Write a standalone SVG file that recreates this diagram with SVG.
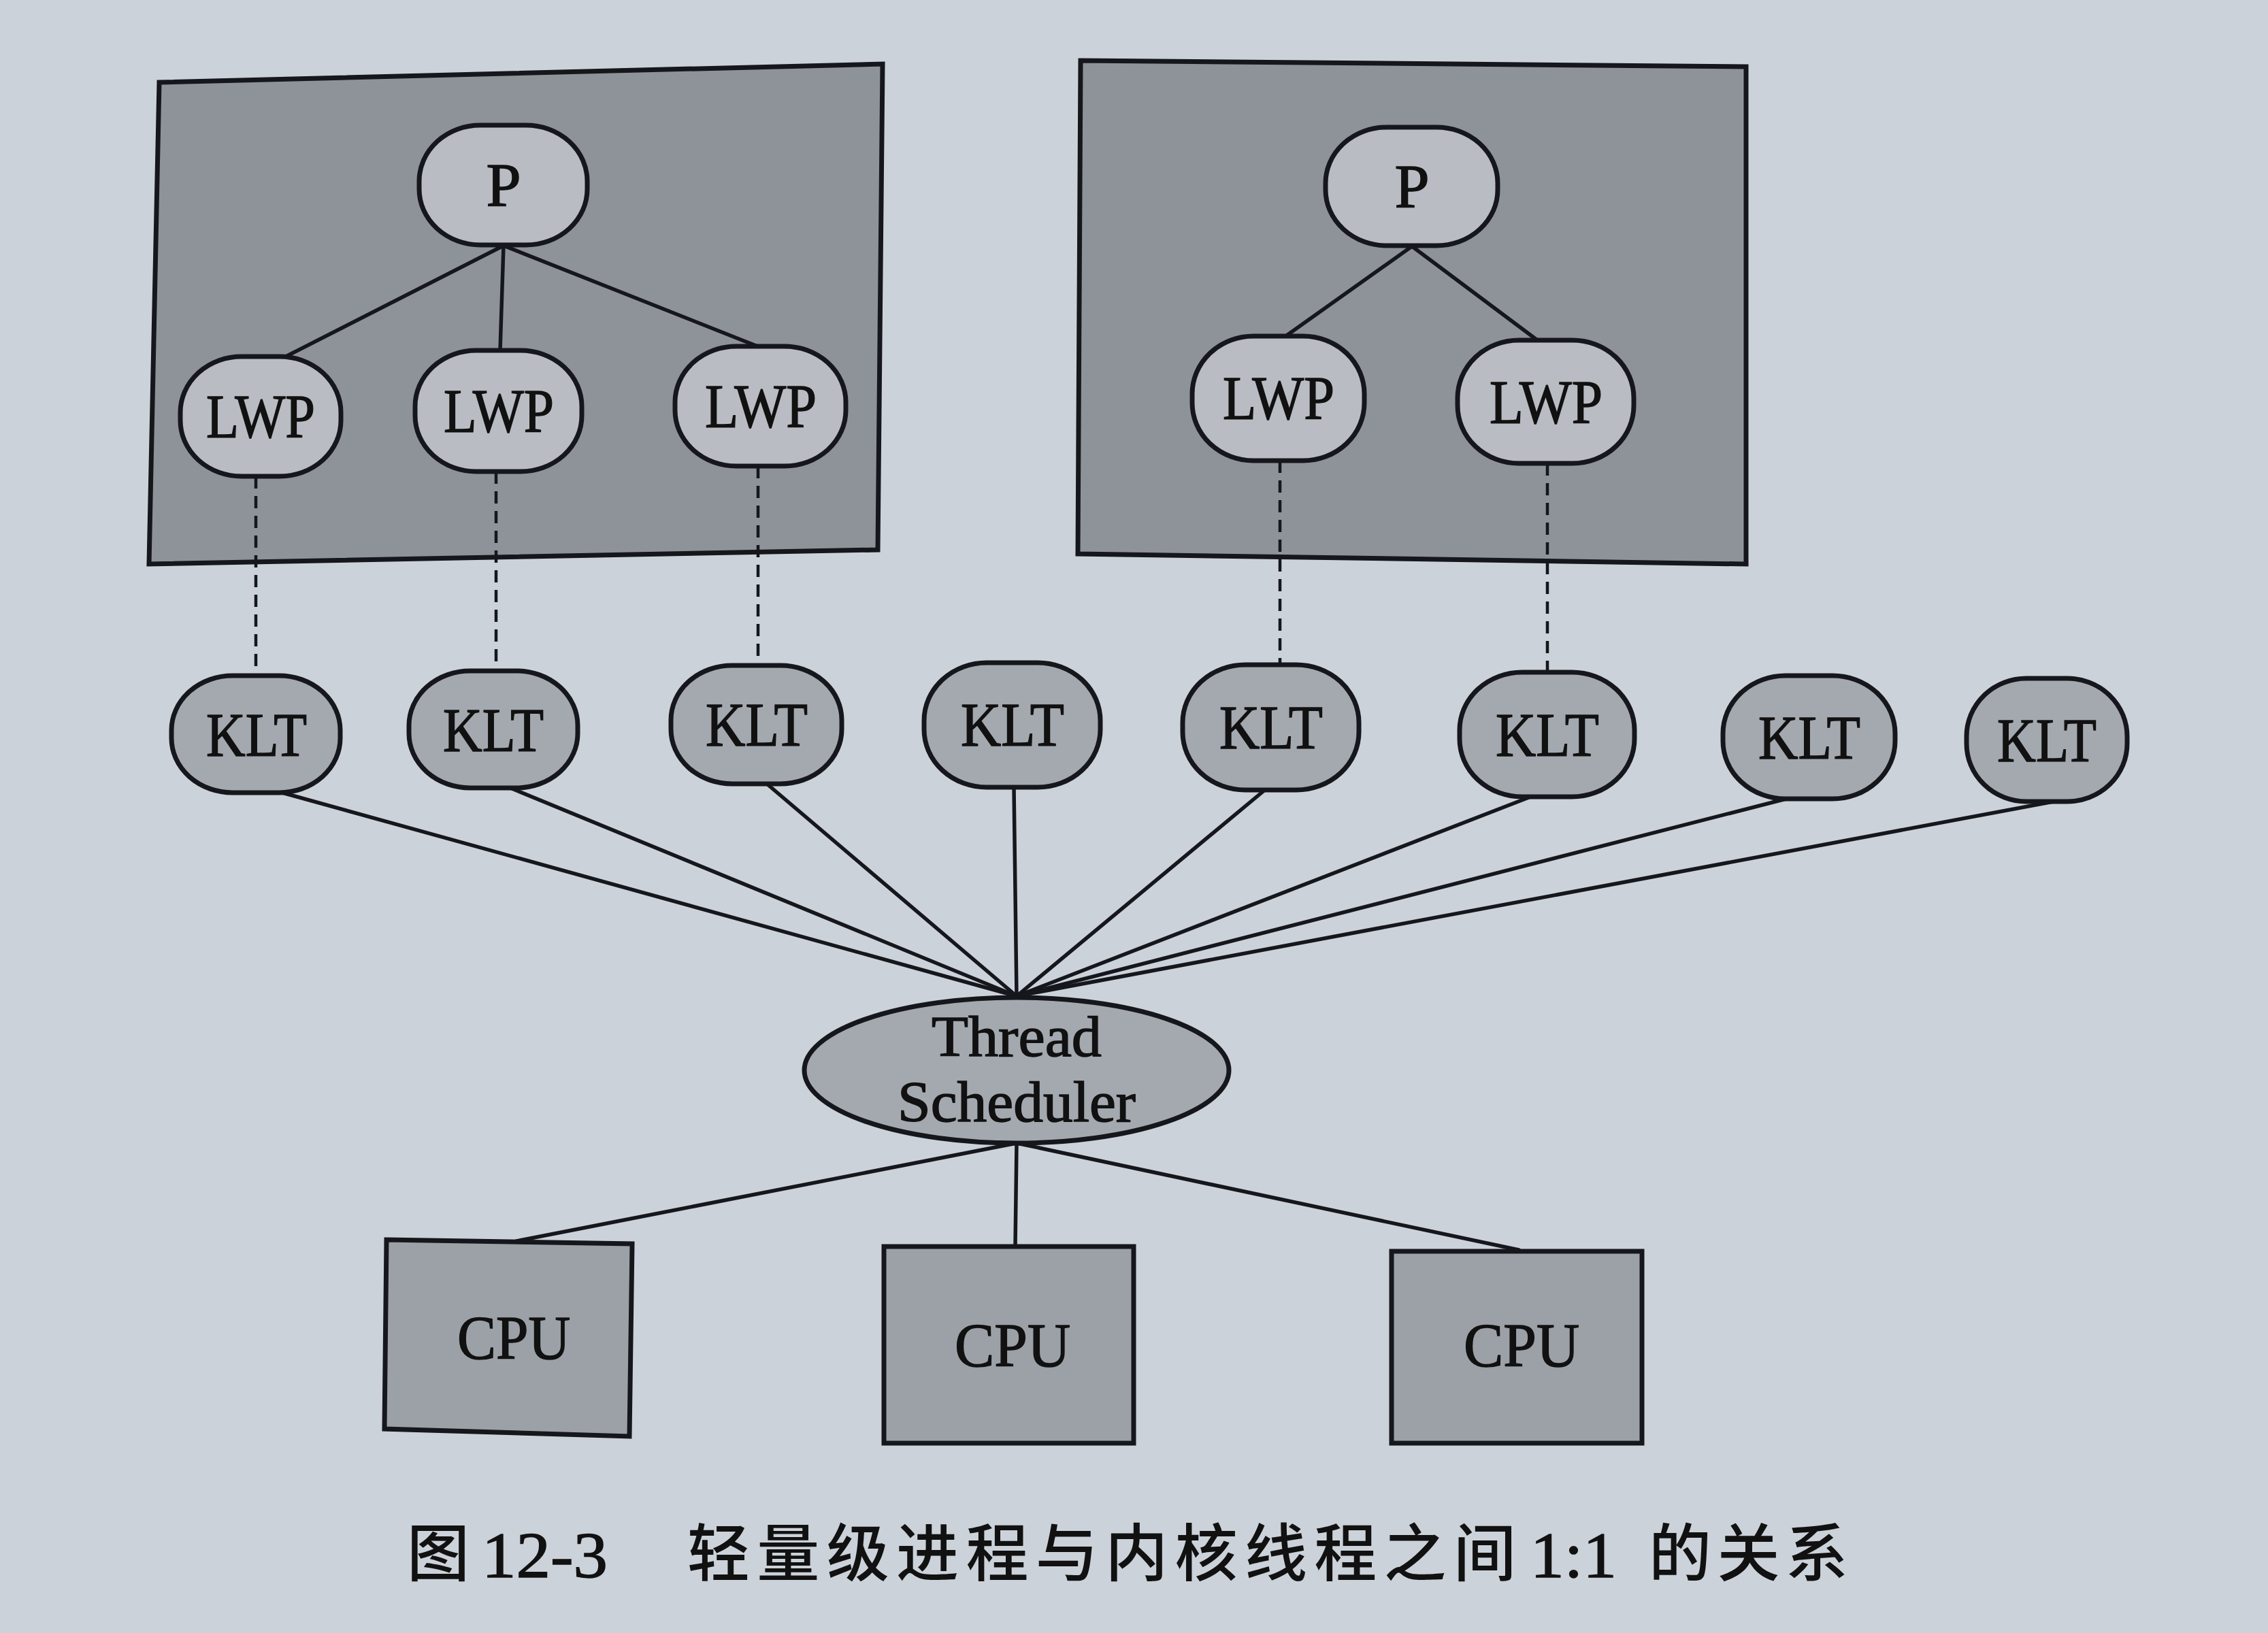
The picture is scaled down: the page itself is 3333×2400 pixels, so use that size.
<svg xmlns="http://www.w3.org/2000/svg" width="3333" height="2400" viewBox="0 0 3333 2400">
<defs>
<style>
.bg{fill:#ccd2d9}
.proc{fill:#8e939a;stroke:#15171c;stroke-width:7}
.light{fill:#b9bdc3;stroke:#15171c;stroke-width:7}
.klt{fill:#a4a9b0;stroke:#15171c;stroke-width:7}
.cpu{fill:#9ca1a8;stroke:#15171c;stroke-width:7}
.ln{stroke:#15171c;stroke-width:5.5;fill:none;stroke-linecap:round}
.dash{stroke:#15171c;stroke-width:4.5;fill:none;stroke-dasharray:18 11}
.t{font-family:"Liberation Serif","Times New Roman",serif;font-size:92px;fill:#111;stroke:#111;stroke-width:1.5;text-anchor:middle}
.ts{font-size:84px}
.cap{font-family:"Noto Sans CJK SC","Noto Sans",sans-serif;font-size:92px;fill:#111;font-weight:500}
.capn{font-family:"Liberation Serif",serif;font-size:96px;fill:#111;stroke:#111;stroke-width:1.5}
</style>
</defs>
<rect class="bg" x="0" y="0" width="3333" height="2400"/>

<g id="process-left">
<polygon class="proc" points="234,121 1297,94 1290,808 219,829"/>
</g>
<g id="process-right">
<polygon class="proc" points="1588,89 2566,98 2566,829 1584,814"/>
</g>

<g id="connectors">
<line class="ln" x1="740" y1="361" x2="414" y2="527"/>
<line class="ln" x1="740" y1="361" x2="735" y2="515"/>
<line class="ln" x1="740" y1="361" x2="1116" y2="510"/>
<line class="ln" x1="2075" y1="362" x2="1888" y2="495"/>
<line class="ln" x1="2075" y1="362" x2="2262" y2="502"/>
<line class="dash" x1="376" y1="700" x2="376" y2="993"/>
<line class="dash" x1="729" y1="693" x2="729" y2="986"/>
<line class="dash" x1="1114" y1="685" x2="1114" y2="978"/>
<line class="dash" x1="1881" y1="677" x2="1881" y2="976"/>
<line class="dash" x1="2274" y1="681" x2="2274" y2="988"/>
<line class="ln" x1="404" y1="1162" x2="1494" y2="1464"/>
<line class="ln" x1="750" y1="1158" x2="1494" y2="1464"/>
<line class="ln" x1="1127" y1="1152" x2="1494" y2="1464"/>
<line class="ln" x1="1490" y1="1157" x2="1494" y2="1464"/>
<line class="ln" x1="1860" y1="1160" x2="1494" y2="1464"/>
<line class="ln" x1="2257" y1="1168" x2="1494" y2="1464"/>
<line class="ln" x1="2625" y1="1174" x2="1494" y2="1464"/>
<line class="ln" x1="3018" y1="1178" x2="1494" y2="1464"/>
<line class="ln" x1="1494" y1="1680" x2="759" y2="1824"/>
<line class="ln" x1="1494" y1="1680" x2="1492" y2="1832"/>
<line class="ln" x1="1494" y1="1680" x2="2232" y2="1837"/>
</g>

<g id="P-left"><rect class="light" x="616" y="184" width="247" height="176" rx="90" ry="82"/><text class="t" x="740" y="303">P</text></g>
<g id="LWP-l1"><rect class="light" x="265" y="524" width="236" height="176" rx="90" ry="82"/><text class="t" x="383" y="643" textLength="160" lengthAdjust="spacingAndGlyphs">LWP</text></g>
<g id="LWP-l2"><rect class="light" x="610" y="515" width="245" height="178" rx="90" ry="82"/><text class="t" x="733" y="635" textLength="162" lengthAdjust="spacingAndGlyphs">LWP</text></g>
<g id="LWP-l3"><rect class="light" x="992" y="509" width="251" height="176" rx="90" ry="82"/><text class="t" x="1118" y="628" textLength="164" lengthAdjust="spacingAndGlyphs">LWP</text></g>

<g id="P-right"><rect class="light" x="1948" y="187" width="253" height="174" rx="90" ry="82"/><text class="t" x="2075" y="305">P</text></g>
<g id="LWP-r1"><rect class="light" x="1752" y="494" width="253" height="183" rx="90" ry="85"/><text class="t" x="1879" y="616" textLength="164" lengthAdjust="spacingAndGlyphs">LWP</text></g>
<g id="LWP-r2"><rect class="light" x="2142" y="500" width="259" height="181" rx="90" ry="85"/><text class="t" x="2272" y="622" textLength="166" lengthAdjust="spacingAndGlyphs">LWP</text></g>

<g id="KLT-1"><rect class="klt" x="252" y="993" width="248" height="172" rx="90" ry="80"/><text class="t" x="377" y="1111" textLength="148" lengthAdjust="spacingAndGlyphs">KLT</text></g>
<g id="KLT-2"><rect class="klt" x="601" y="986" width="248" height="172" rx="90" ry="80"/><text class="t" x="725" y="1104" textLength="148" lengthAdjust="spacingAndGlyphs">KLT</text></g>
<g id="KLT-3"><rect class="klt" x="986" y="978" width="251" height="174" rx="90" ry="80"/><text class="t" x="1112" y="1096" textLength="150" lengthAdjust="spacingAndGlyphs">KLT</text></g>
<g id="KLT-4"><rect class="klt" x="1358" y="974" width="259" height="183" rx="92" ry="85"/><text class="t" x="1488" y="1096" textLength="152" lengthAdjust="spacingAndGlyphs">KLT</text></g>
<g id="KLT-5"><rect class="klt" x="1738" y="977" width="259" height="184" rx="92" ry="85"/><text class="t" x="1868" y="1100" textLength="152" lengthAdjust="spacingAndGlyphs">KLT</text></g>
<g id="KLT-6"><rect class="klt" x="2145" y="988" width="257" height="183" rx="92" ry="85"/><text class="t" x="2274" y="1111" textLength="152" lengthAdjust="spacingAndGlyphs">KLT</text></g>
<g id="KLT-7"><rect class="klt" x="2532" y="993" width="253" height="181" rx="92" ry="85"/><text class="t" x="2659" y="1115" textLength="150" lengthAdjust="spacingAndGlyphs">KLT</text></g>
<g id="KLT-8"><rect class="klt" x="2890" y="997" width="236" height="181" rx="88" ry="85"/><text class="t" x="3008" y="1119" textLength="146" lengthAdjust="spacingAndGlyphs">KLT</text></g>

<g id="scheduler"><ellipse class="klt" cx="1494" cy="1573" rx="312" ry="107"/><text class="t ts" x="1494" y="1552" textLength="250" lengthAdjust="spacingAndGlyphs">Thread</text><text class="t ts" x="1494" y="1648" textLength="350" lengthAdjust="spacingAndGlyphs">Scheduler</text></g>

<g id="CPU-1"><polygon class="cpu" points="568,1822 929,1828 925,2111 565,2100"/><text class="t" x="755" y="1997" textLength="166" lengthAdjust="spacingAndGlyphs">CPU</text></g>
<g id="CPU-2"><polygon class="cpu" points="1299,1832 1666,1832 1666,2121 1299,2121"/><text class="t" x="1488" y="2008" textLength="170" lengthAdjust="spacingAndGlyphs">CPU</text></g>
<g id="CPU-3"><polygon class="cpu" points="2045,1839 2413,1839 2413,2121 2045,2121"/><text class="t" x="2236" y="2008" textLength="170" lengthAdjust="spacingAndGlyphs">CPU</text></g>

<g id="caption">
<text class="cap" x="598" y="2316">图</text>
<text class="capn" x="708" y="2318" textLength="185" lengthAdjust="spacingAndGlyphs">12-3</text>
<text class="cap" x="1010" y="2316" textLength="1218" lengthAdjust="spacing">轻量级进程与内核线程之间</text>
<text class="capn" x="2249" y="2318" textLength="127" lengthAdjust="spacingAndGlyphs">1:1</text>
<text class="cap" x="2423" y="2316" textLength="293" lengthAdjust="spacing">的关系</text>
</g>
</svg>
